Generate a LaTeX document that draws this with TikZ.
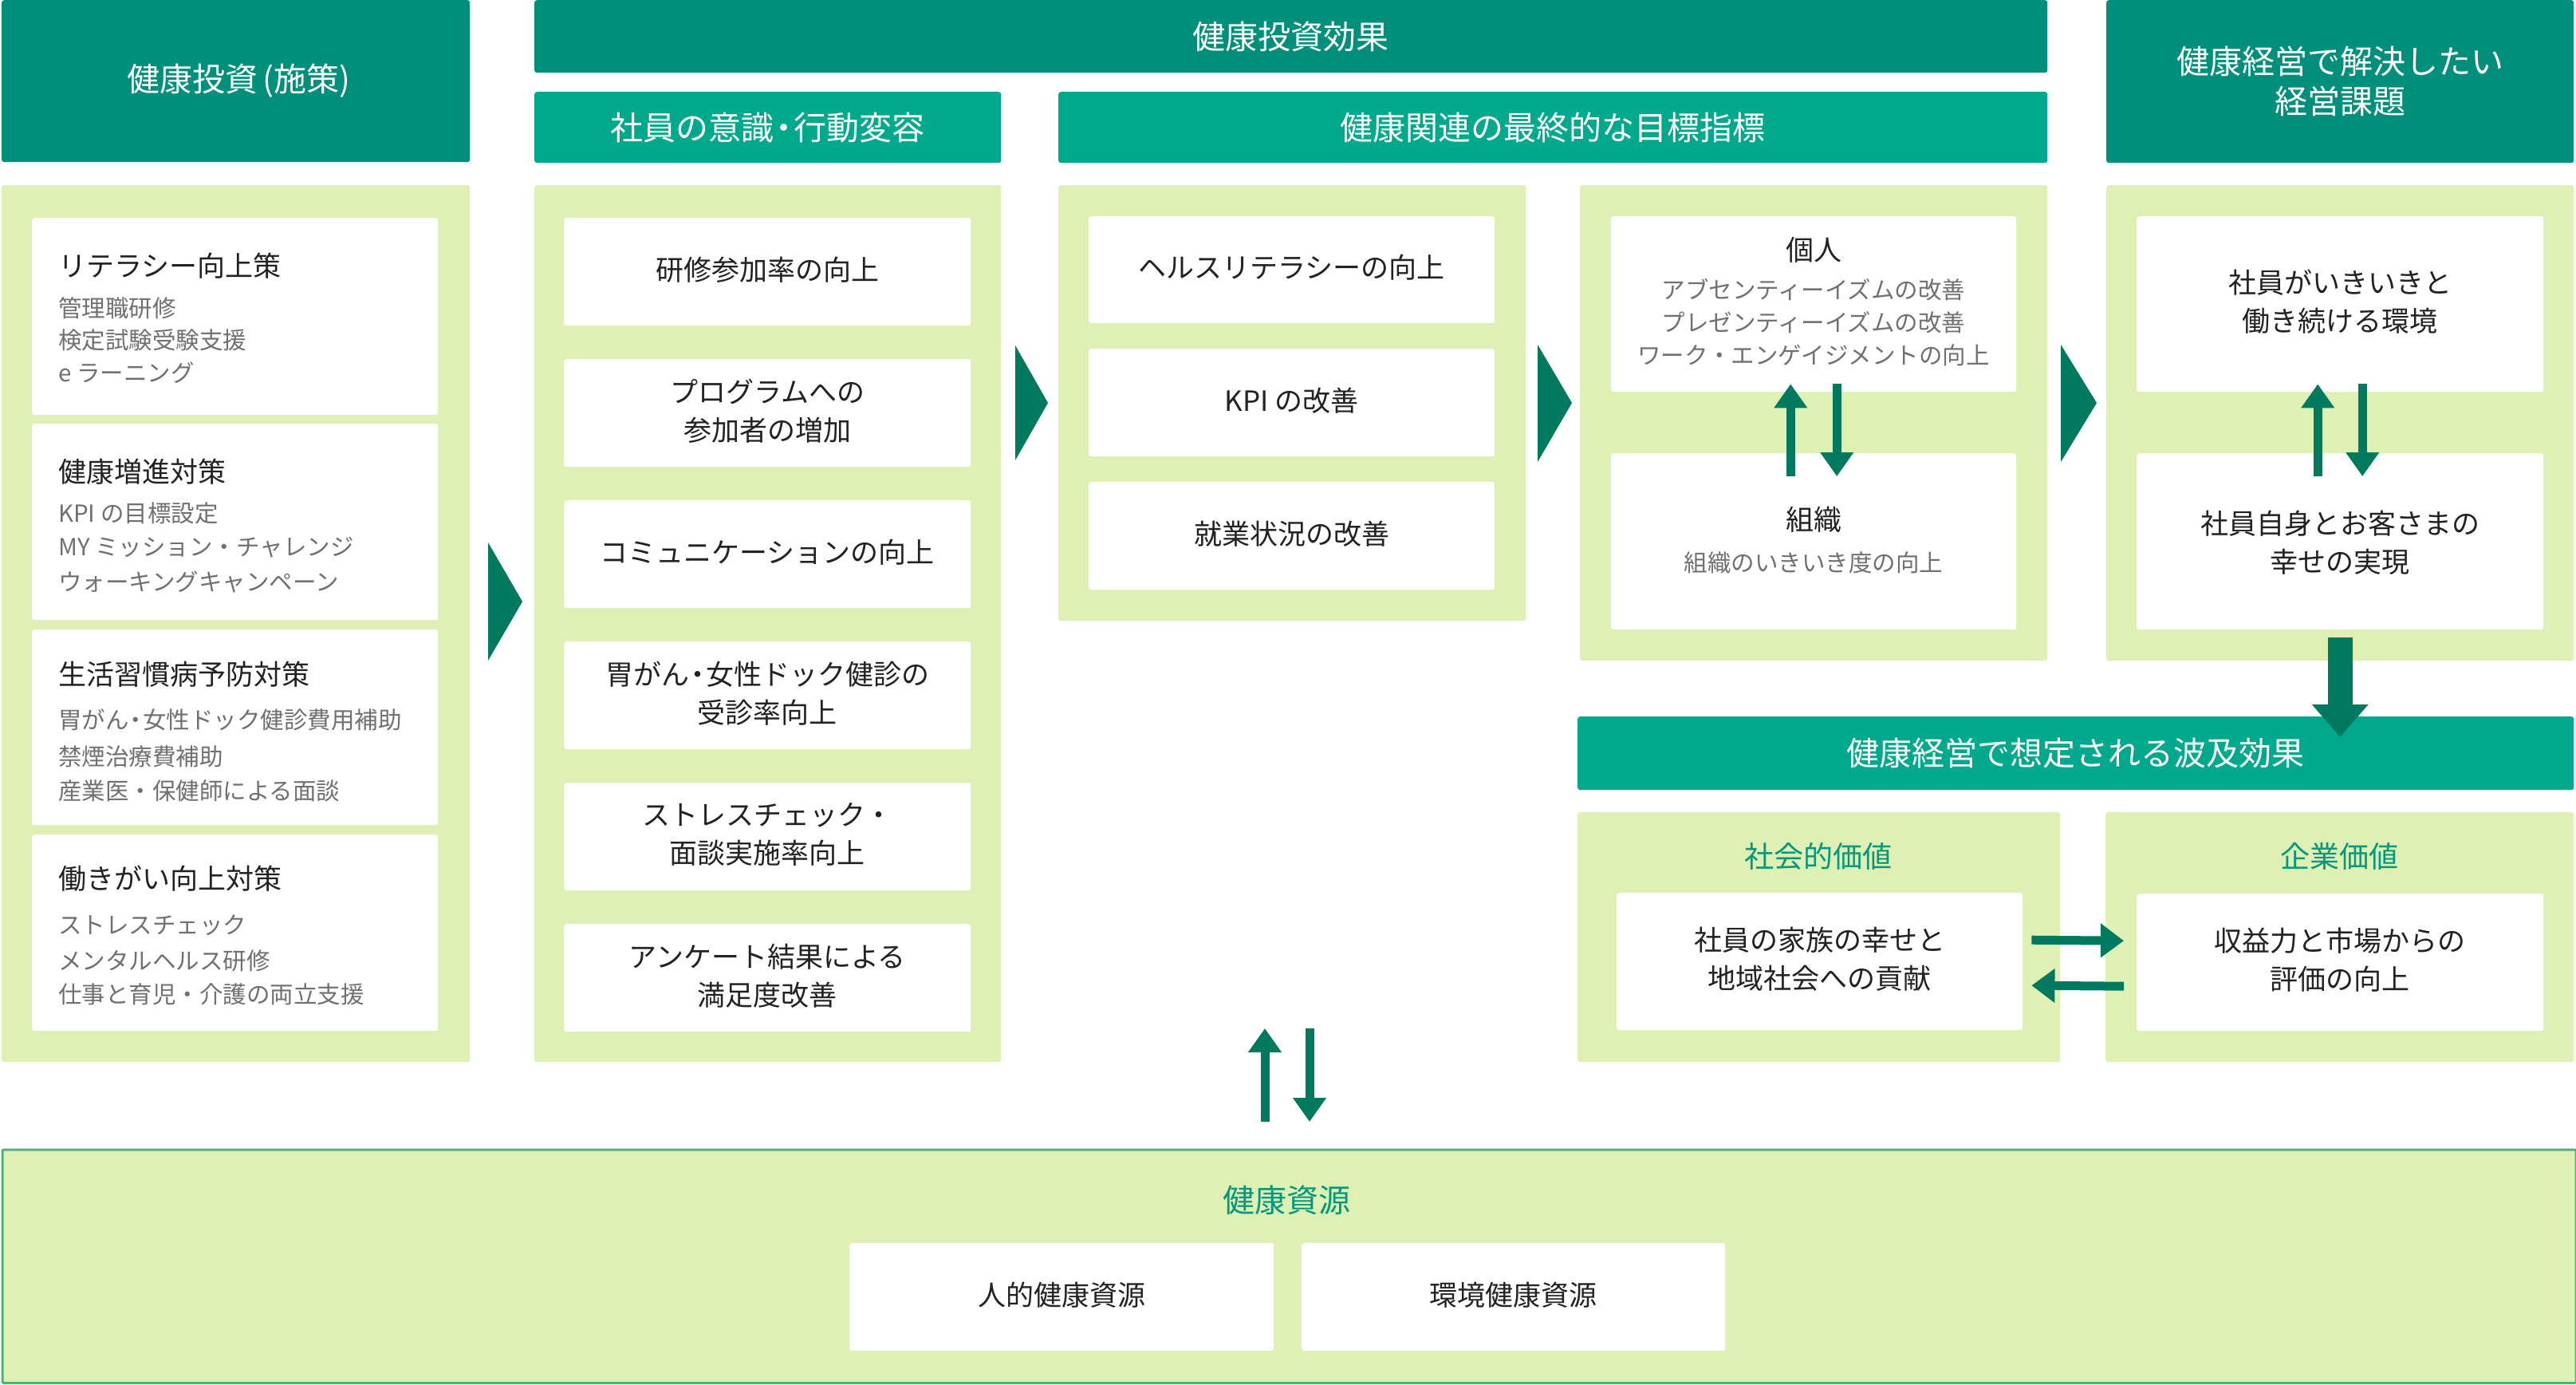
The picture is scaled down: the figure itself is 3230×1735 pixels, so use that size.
\documentclass[tikz,border=0pt]{standalone}
\usepackage{fontspec}
\setmainfont{Noto Sans CJK JP}
\usetikzlibrary{arrows.meta}
\definecolor{hdA}{HTML}{008F7A}
\definecolor{hdB}{HTML}{00A98C}
\definecolor{panelc}{HTML}{DFF0B4}
\definecolor{arrc}{HTML}{007A5E}
\definecolor{txt}{HTML}{222222}
\definecolor{subt}{HTML}{707070}
\definecolor{lbl}{HTML}{00997F}
\definecolor{bord}{HTML}{4CB47A}
\newcommand\hfs{\fontsize{41}{50}\selectfont}
\newcommand\bfs{\fontsize{35}{48}\selectfont}
\newcommand\sfs{\fontsize{29.5}{41}\selectfont}
\newcommand\lfs{\fontsize{37}{44}\selectfont}
\newcommand\nd{\kern-0.2em・\kern-0.2em}
\tikzset{
  bx/.style n args={4}{at={(#1,#2)}, anchor=north west, inner sep=0pt,
     minimum width={(#3)-(#1)}, minimum height={(#4)-(#2)}},
  hda/.style={fill=hdA, rounded corners=3pt, text=white, font=\hfs, align=center},
  hdb/.style={fill=hdB, rounded corners=3pt, text=white, font=\hfs, align=center},
  panel/.style={fill=panelc, rounded corners=3pt},
  wbox/.style={fill=white, rounded corners=3pt, text=txt, font=\bfs, align=center, text depth=8.5pt},
  ttl/.style={anchor=west, text=txt, font=\bfs, inner sep=0pt},
  subl/.style={anchor=west, text=subt, font=\sfs, inner sep=0pt},
  ctl/.style={text=txt, font=\bfs, inner sep=0pt},
  csub/.style={text=subt, font=\sfs, inner sep=0pt},
  lab/.style={text=lbl, font=\lfs, inner sep=0pt},
  chev/.style={fill=arrc},
  thin arrow/.style={draw=arrc, line width=11pt, -{Triangle[length=30pt,width=40pt]}},
  side arrow/.style={draw=arrc, line width=11pt, -{Triangle[length=29pt,width=41pt]}},
  big arrow/.style={draw=arrc, line width=31pt, -{Triangle[length=41pt,width=68pt]}},
}
\begin{document}
\begin{tikzpicture}[x=1pt,y=-1pt]
\path[use as bounding box, fill=white] (0,0) rectangle (3230,1735);

% headers
\node[hda, bx={2}{0}{589}{203}] (hInv) {\hspace*{8pt}健康投資\kern0.15em(施策)};
\node[hda, bx={670}{0}{2567}{91}] (hEff) {健康投資効果};
\node[hda, bx={2641}{0}{3227}{204}] (hIss) {健康経営で解決したい\\経営課題};
\node[hdb, bx={670}{115}{1255}{204}] (hBeh) {社員の意識\nd 行動変容};
\node[hdb, bx={1327}{115}{2567}{204}] (hGoal) {健康関連の最終的な目標指標};
\node[hdb, bx={1978}{898}{3227}{990}] (hRip) {健康経営で想定される波及効果};

% panels
\node[panel, bx={2}{232}{589}{1331}] (pInv) {};
\node[panel, bx={670}{232}{1255}{1331}] (pBeh) {};
\node[panel, bx={1327}{232}{1913}{778}] (pGoal) {};
\node[panel, bx={1981}{232}{2567}{828}] (pIO) {};
\node[panel, bx={2641}{232}{3227}{828}] (pIss) {};
\node[panel, bx={1978}{1018}{2583}{1331}] (pSoc) {};
\node[panel, bx={2640}{1018}{3227}{1331}] (pCorp) {};
\node[panel, draw=bord, line width=3pt, rounded corners=2pt, bx={1.5}{1439.5}{3228.5}{1732}] (pRes) {};

% left column
\node[wbox, bx={40}{273}{549}{520}] (l1) {};
\node[wbox, bx={40}{531}{549}{777}] (l2) {};
\node[wbox, bx={40}{789}{549}{1034}] (l3) {};
\node[wbox, bx={40}{1046}{549}{1292}] (l4) {};
\node[ttl] (l1t) at (73,333) {リテラシー向上策};
\node[subl] (l1a) at (73,386) {管理職研修};
\node[subl] (l1b) at (73,426) {検定試験受験支援};
\node[subl] (l1c) at (73,467) {e ラーニング};
\node[ttl] (l2t) at (73,591) {健康増進対策};
\node[subl] (l2a) at (73,643) {KPI の目標設定};
\node[subl] (l2b) at (73,686) {MY ミッション・チャレンジ};
\node[subl] (l2c) at (73,729) {ウォーキングキャンペーン};
\node[ttl] (l3t) at (73,845) {生活習慣病予防対策};
\node[subl] (l3a) at (73,902) {胃がん\nd 女性ドック健診費用補助};
\node[subl] (l3b) at (73,948) {禁煙治療費補助};
\node[subl] (l3c) at (73,991) {産業医・保健師による面談};
\node[ttl] (l4t) at (73,1101) {働きがい向上対策};
\node[subl] (l4a) at (73,1160) {ストレスチェック};
\node[subl] (l4b) at (73,1204) {メンタルヘルス研修};
\node[subl] (l4c) at (73,1246) {仕事と育児・介護の両立支援};

% behaviour column
\node[wbox, bx={707}{273}{1217}{408}] (m1) {研修参加率の向上};
\node[wbox, bx={707}{450}{1217}{585}] (m2) {プログラムへの\\参加者の増加};
\node[wbox, bx={707}{627}{1217}{762}] (m3) {コミュニケーションの向上};
\node[wbox, bx={707}{804}{1217}{939}] (m4) {胃がん\nd 女性ドック健診の\\受診率向上};
\node[wbox, bx={707}{981}{1217}{1116}] (m5) {ストレスチェック・\\面談実施率向上};
\node[wbox, bx={707}{1158}{1217}{1293}] (m6) {アンケート結果による\\満足度改善};

% goal column
\node[wbox, bx={1365}{271}{1874}{405}] (k1) {ヘルスリテラシーの向上};
\node[wbox, bx={1365}{437}{1874}{572}] (k2) {KPI の改善};
\node[wbox, bx={1365}{604}{1874}{739}] (k3) {就業状況の改善};

% individual / organisation
\node[wbox, bx={2020}{271}{2528}{491}] (ind) {};
\node[wbox, bx={2020}{568}{2528}{789}] (org) {};
\node[ctl] (indt) at (2274,313) {個人};
\node[csub] (inda) at (2274,363) {アブセンティーイズムの改善};
\node[csub] (indb) at (2274,404) {プレゼンティーイズムの改善};
\node[csub] (indc) at (2274,445) {ワーク・エンゲイジメントの向上};
\node[ctl] (orgt) at (2274,651) {組織};
\node[csub] (orga) at (2274,705) {組織のいきいき度の向上};

% issues column
\node[wbox, bx={2679}{271}{3189}{491}] (g1) {社員がいきいきと\\働き続ける環境};
\node[wbox, bx={2679}{568}{3189}{789}, text depth=0pt] (g2) {社員自身とお客さまの\\幸せの実現};

% ripple effects
\node[lab] (socl) at (2280,1073) {社会的価値};
\node[lab] (corpl) at (2933,1073) {企業価値};
\node[wbox, bx={2027}{1119}{2536}{1291}] (s1) {社員の家族の幸せと\\地域社会への貢献};
\node[wbox, bx={2679}{1120}{3189}{1292}] (c1) {収益力と市場からの\\評価の向上};

% resources
\node[lab, font=\fontsize{40}{48}\selectfont] (resl) at (1613,1504) {健康資源};
\node[wbox, bx={1065}{1558}{1597}{1693}] (r1) {人的健康資源};
\node[wbox, bx={1632}{1558}{2163}{1693}] (r2) {環境健康資源};

% chevrons
\fill[chev] (612,680) -- (655,754) -- (612,828) -- cycle;
\fill[chev] (1273,433) -- (1314,505) -- (1273,577) -- cycle;
\fill[chev] (1928,432) -- (1971,505) -- (1928,579) -- cycle;
\fill[chev] (2584,432) -- (2629,505) -- (2584,579) -- cycle;

% up/down arrows
\draw[thin arrow] ([xshift=-29pt,yshift=-29pt]org.north) -- ([xshift=-29pt,yshift=10pt]ind.south);
\draw[thin arrow] ([xshift=29pt,yshift=10pt]ind.south) -- ([xshift=29pt,yshift=-29pt]org.north);
\draw[thin arrow] ([xshift=-28pt,yshift=-29pt]g2.north) -- ([xshift=-28pt,yshift=10pt]g1.south);
\draw[thin arrow] ([xshift=28pt,yshift=10pt]g1.south) -- ([xshift=28pt,yshift=-29pt]g2.north);

\coordinate (ruA) at (1586,1406);
\coordinate (ruB) at (1586,1289);
\coordinate (rdA) at (1642,1289);
\coordinate (rdB) at (1642,1406);
\draw[thin arrow] (ruA) -- (ruB);
\draw[thin arrow] (rdA) -- (rdB);

% big down arrow
\draw[big arrow] ([yshift=29pt]pIss.south) -- ([yshift=-26pt]hRip.north -| pIss.south);

% side arrows
\draw[side arrow] ([xshift=11pt,yshift=27pt]s1.east) -- ([xshift=-16pt,yshift=27pt]c1.west);
\draw[side arrow] ([xshift=-16pt,yshift=-30pt]c1.west) -- ([xshift=11pt,yshift=-30pt]s1.east);
\end{tikzpicture}
\end{document}
